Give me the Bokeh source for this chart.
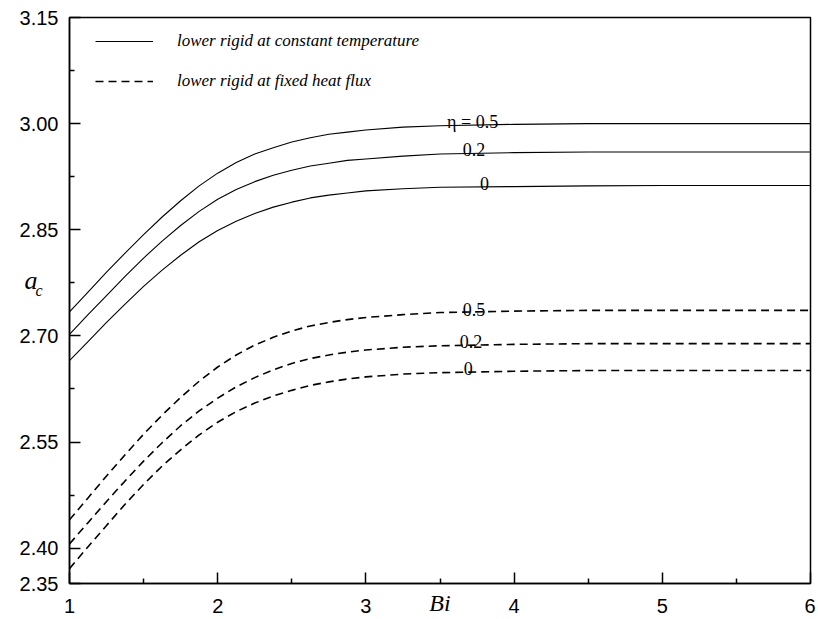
from bokeh.plotting import figure
from bokeh.models import (Range1d, FixedTicker, PrintfTickFormatter, LinearAxis,
                          Legend, LegendItem, ColumnDataSource)
from bokeh.core.properties import value
from bokeh.embed import file_html
from bokeh.resources import INLINE

# ---- data ----
bi = [1.0, 1.125, 1.25, 1.375, 1.5, 1.625, 1.75, 1.875, 2.0, 2.125, 2.25, 2.375,
      2.5, 2.625, 2.75, 2.875, 3.0, 3.25, 3.5, 4.0, 4.5, 5.0, 6.0]

const_eta05 = [2.734, 2.762, 2.790, 2.817, 2.843, 2.868, 2.891, 2.912, 2.930, 2.945, 2.957, 2.966,
               2.974, 2.980, 2.985, 2.988, 2.991, 2.995, 2.997, 2.999, 3.000, 3.000, 3.000]
const_eta02 = [2.702, 2.730, 2.757, 2.784, 2.810, 2.834, 2.856, 2.876, 2.893, 2.907, 2.918, 2.927,
               2.934, 2.940, 2.944, 2.948, 2.950, 2.954, 2.957, 2.959, 2.960, 2.960, 2.960]
const_eta0 = [2.665, 2.692, 2.719, 2.745, 2.770, 2.793, 2.814, 2.833, 2.849, 2.862, 2.873, 2.882,
              2.889, 2.895, 2.899, 2.902, 2.905, 2.908, 2.910, 2.911, 2.912, 2.9125, 2.9125]

flux_eta05 = [2.440, 2.471, 2.502, 2.532, 2.561, 2.588, 2.613, 2.636, 2.656, 2.673, 2.687, 2.698,
              2.707, 2.714, 2.719, 2.723, 2.726, 2.730, 2.733, 2.735, 2.736, 2.736, 2.736]
flux_eta02 = [2.406, 2.436, 2.466, 2.495, 2.523, 2.549, 2.573, 2.594, 2.612, 2.628, 2.641, 2.652,
              2.661, 2.668, 2.673, 2.677, 2.680, 2.684, 2.686, 2.688, 2.689, 2.689, 2.689]
flux_eta0 = [2.371, 2.402, 2.432, 2.462, 2.490, 2.516, 2.539, 2.560, 2.578, 2.593, 2.605, 2.615,
             2.623, 2.630, 2.635, 2.639, 2.642, 2.646, 2.648, 2.650, 2.651, 2.651, 2.651]

eta_labels_const = ["\u03b7 = 0.5", "0.2", "0"]
eta_labels_flux = ["0.5", "0.2", "0"]

x_ticks = [1, 2, 3, 4, 5, 6]
x_minor = [1.5, 2.5, 3.5, 4.5, 5.5]
y_ticks = [2.35, 2.40, 2.55, 2.70, 2.85, 3.00, 3.15]
y_minor = [2.475, 2.625, 2.775, 2.925, 3.075]

legend_labels = ["lower rigid at constant temperature", "lower rigid at fixed heat flux"]
x_title = "Bi"
y_title_main, y_title_sub = "a", "c"

# ---- figure ----
p = figure(width=815, height=619, x_range=Range1d(1, 6), y_range=Range1d(2.35, 3.15),
           output_backend="svg", toolbar_location=None,
           min_border_left=69, min_border_right=5, min_border_top=17, min_border_bottom=36,
           x_axis_location=None, y_axis_location=None)
p.xgrid.visible = False
p.ygrid.visible = False
p.outline_line_color = "black"
p.outline_line_width = 1.5
p.background_fill_color = "white"
p.border_fill_color = "white"

def style_axis(ax):
    ax.axis_line_color = "black"
    ax.axis_line_width = 1.5
    ax.major_tick_line_color = "black"
    ax.major_tick_line_width = 1.5
    ax.minor_tick_line_color = "black"
    ax.minor_tick_line_width = 1.5
    ax.major_tick_in = 11
    ax.major_tick_out = 0
    ax.minor_tick_in = 5
    ax.minor_tick_out = 0
    ax.major_label_text_font = "Liberation Sans"
    ax.major_label_text_font_size = "20px"
    ax.major_label_text_color = "black"

xb = LinearAxis(ticker=FixedTicker(ticks=x_ticks, minor_ticks=x_minor),
                formatter=PrintfTickFormatter(format="%d"))
style_axis(xb)
xb.major_label_standoff = 15
xb.axis_label = x_title
xb.axis_label_text_font = "Liberation Serif"
xb.axis_label_text_font_style = "italic"
xb.axis_label_text_font_size = "24px"
xb.axis_label_text_color = "black"
xb.axis_label_standoff = -26
p.add_layout(xb, "below")

# main left axis carries the "a" of a_c
yl = LinearAxis(ticker=FixedTicker(ticks=y_ticks, minor_ticks=y_minor),
                formatter=PrintfTickFormatter(format="%.2f"))
style_axis(yl)
yl.major_label_standoff = 11
yl.axis_label = y_title_main + "\n"
yl.axis_label_text_font = "Liberation Serif"
yl.axis_label_text_font_style = "italic"
yl.axis_label_text_font_size = "26px"
yl.axis_label_text_line_height = 1.4
yl.axis_label_text_color = "black"
yl.axis_label_standoff = -21
yl.axis_label_orientation = "horizontal"
p.add_layout(yl, "left")

# an outer, invisible left axis carries the subscript "c"
yc = LinearAxis(ticker=FixedTicker(ticks=[]), formatter=PrintfTickFormatter(format="%.2f"))
yc.axis_line_color = None
yc.major_tick_line_color = None
yc.minor_tick_line_color = None
yc.major_tick_out = 0
yc.minor_tick_out = 0
yc.major_label_standoff = 0
yc.axis_label = y_title_sub + "\n"
yc.axis_label_text_font = "Liberation Serif"
yc.axis_label_text_font_style = "italic"
yc.axis_label_text_font_size = "16px"
yc.axis_label_text_line_height = 1.2
yc.axis_label_text_color = "black"
yc.axis_label_standoff = -21
yc.axis_label_orientation = "horizontal"
p.add_layout(yc, "left")

# ---- curves ----
solid = []
for ys in (const_eta05, const_eta02, const_eta0):
    solid.append(p.line(bi, ys, line_color="black", line_width=1.1))
dashed = []
for ys in (flux_eta05, flux_eta02, flux_eta0):
    dashed.append(p.line(bi, ys, line_color="black", line_width=1.6, line_dash="8 5"))

# ---- curve labels ----
lab_x_c = [3.72, 3.73, 3.80]
lab_y_c = [3.003, 2.964, 2.916]
lab_x_f = [3.73, 3.71, 3.69]
lab_y_f = [2.737, 2.692, 2.654]
src = ColumnDataSource(dict(x=lab_x_c + lab_x_f, y=lab_y_c + lab_y_f,
                            t=eta_labels_const + eta_labels_flux))
p.text(x="x", y="y", text="t", source=src, text_font=value("Liberation Serif"),
       text_font_size="18px", text_align="center", text_baseline="alphabetic",
       text_color="black")

# ---- legend ----
legend = Legend(items=[LegendItem(label=legend_labels[0], renderers=[solid[0]]),
                       LegendItem(label=legend_labels[1], renderers=[dashed[0]])],
                location=(26, 492), padding=0, margin=0, spacing=20,
                glyph_width=58, glyph_height=20, label_height=20, label_standoff=24,
                label_text_font="Liberation Serif", label_text_font_style="italic",
                label_text_font_size="17px", label_text_color="black",
                border_line_color=None, background_fill_alpha=0)
p.add_layout(legend, "center")

open("out.html", "w").write(file_html(p, INLINE))
